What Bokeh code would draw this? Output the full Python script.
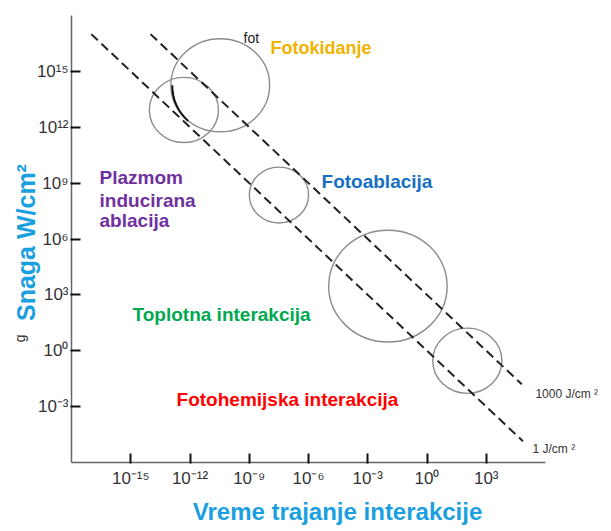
import math
from bokeh.plotting import figure
from bokeh.models import FixedTicker, CustomJSTickFormatter, Label, ColumnDataSource
from bokeh.embed import file_html
from bokeh.resources import INLINE

# ---------------- data ----------------
x_ticks = [1e-15, 1e-12, 1e-9, 1e-6, 1e-3, 1e0, 1e3]
x_tick_labels = ["10⁻¹⁵", "10⁻¹²", "10⁻⁹", "10⁻⁶", "10⁻³", "10⁰", "10³"]
y_ticks = [1e-3, 1e0, 1e3, 1e6, 1e9, 1e12, 1e15]
y_tick_labels = ["10⁻³", "10⁰", "10³", "10⁶", "10⁹", "10¹²", "10¹⁵"]
x_axis_bounds = (1e-18, 1e6)
y_axis_bounds = (1e-6, 1e18)

# interaction regions (centre: time [s], power density [W/cm2]; radius in decades)
region_t = [3.4e-11, 4.9e-13, 3.2e-8, 1.05e-2, 110.0]
region_p = [1.8e14, 8.5e12, 2.3e8, 2.95e3, 0.29]
region_r = [2.5, 1.75, 1.5, 3.0, 1.75]

# constant fluence lines
line_1J_t = [1e-17, 7.2e4]
line_1J_p = [1e17, 1.39e-5]
line_1000J_t = [1e-14, 6.3e4]
line_1000J_p = [1e17, 1.59e-2]

# ---------------- layout ----------------
W, H = 610, 530
AX_LEFT, AX_TOP = 71, 15          # pixel position of the axis box
pxdx = 474 / 24.0                  # pixels per decade
pxdy = 447 / 24.0
X_RANGE = (10 ** (-18 - AX_LEFT / pxdx), 10 ** (-18 + (W - AX_LEFT) / pxdx))
Y_RANGE = (10 ** (18 - (H - AX_TOP) / pxdy), 10 ** (18 + AX_TOP / pxdy))

p = figure(x_axis_type="log", y_axis_type="log", x_range=X_RANGE, y_range=Y_RANGE,
           frame_width=W, frame_height=H, min_border=0,
           output_backend="svg", toolbar_location=None)
p.outline_line_color = None
p.xgrid.grid_line_color = None
p.ygrid.grid_line_color = None
p.background_fill_color = "white"

fmt_code = """
let best = -1; let bd = 1e9;
for (let i = 0; i < tvals.length; i++) {
  const d = Math.abs(Math.log10(tvals[i]) - Math.log10(tick));
  if (d < bd) { bd = d; best = i; }
}
return bd < 1e-6 ? tlabs[best] : "";
"""
p.xaxis.ticker = FixedTicker(ticks=x_ticks, minor_ticks=[])
p.yaxis.ticker = FixedTicker(ticks=y_ticks, minor_ticks=[])
p.xaxis.formatter = CustomJSTickFormatter(args=dict(tvals=x_ticks, tlabs=x_tick_labels), code=fmt_code)
p.yaxis.formatter = CustomJSTickFormatter(args=dict(tvals=y_ticks, tlabs=y_tick_labels), code=fmt_code)
p.xaxis.fixed_location = y_axis_bounds[0]
p.xaxis.bounds = x_axis_bounds
p.yaxis.fixed_location = x_axis_bounds[0]
p.yaxis.bounds = y_axis_bounds
for ax in (p.xaxis, p.yaxis):
    ax.axis_line_color = "#666666"
    ax.axis_line_width = 1.5
    ax.major_tick_line_color = "#111111"
    ax.major_tick_line_width = 2
    ax.major_tick_in = 9
    ax.major_tick_out = 1
    ax.minor_tick_line_color = None
    ax.major_label_text_font = "Liberation Sans"
    ax.major_label_text_font_size = "17px"
    ax.major_label_text_color = "#333333"
p.xaxis.major_label_standoff = 5
p.yaxis.major_label_standoff = 2

# regions
src = ColumnDataSource(dict(t=region_t, p=region_p,
                            w=[2 * r * pxdx for r in region_r],
                            h=[2 * r * pxdy for r in region_r]))
p.ellipse(x="t", y="p", width="w", height="h", width_units="screen", height_units="screen",
          source=src, fill_color=None, line_color="#8c8c8c", line_width=1.4)
# darker arc on first region's edge
p.arc(x=[region_t[0]], y=[region_p[0]], radius=region_r[0] * (pxdx + pxdy) / 2,
      radius_units="screen", start_angle=math.pi, end_angle=math.radians(228),
      line_color="#111111", line_width=2)

# fluence lines
p.line(line_1J_t, line_1J_p, line_color="#222222", line_width=2, line_dash="9 5")
p.line(line_1000J_t, line_1000J_p, line_color="#222222", line_width=2, line_dash="9 5")

def lab(text, lt, lp, color, size, bold=True, align="left", baseline="alphabetic", angle=0.0,
        font="Liberation Sans"):
    p.add_layout(Label(x=10 ** lt, y=10 ** lp, text=text, text_color=color,
                       text_font=font, text_font_size=f"{size}px",
                       text_font_style="bold" if bold else "normal",
                       text_align=align, text_baseline=baseline, angle=angle))

lab("fot", -9.29, 16.77, "#222222", 14, bold=False)
lab("Fotokidanje", -7.92, 16.255, "#f2b200", 18)
lab("Fotoablacija", -5.34, 9.09, "#1670c2", 19)
lab("Plazmom", -16.58, 9.30, "#7030a0", 19)
lab("inducirana", -16.58, 8.09, "#7030a0", 19)
lab("ablacija", -16.58, 6.97, "#7030a0", 19)
lab("Toplotna interakcija", -14.91, 1.95, "#00a850", 19)
lab("Fotohemijska interakcija", -12.68, -2.62, "#ff0000", 19)
lab("1000 J/cm ²", 5.49, -2.30, "#333333", 12, bold=False)
lab("1 J/cm  ²", 5.34, -5.28, "#333333", 12, bold=False)
lab("Vreme trajanje interakcije", -4.53, -8.65, "#1aa0e0", 24, align="center")
lab("Snaga W/cm²", -20.3, 5.81, "#1aa0e0", 25, align="center", angle=math.pi / 2)
lab("g", -20.62, 0.66, "#333333", 14, bold=False, align="center", baseline="middle",
    angle=math.pi / 2)

open("out.html", "w").write(file_html(p, INLINE))
